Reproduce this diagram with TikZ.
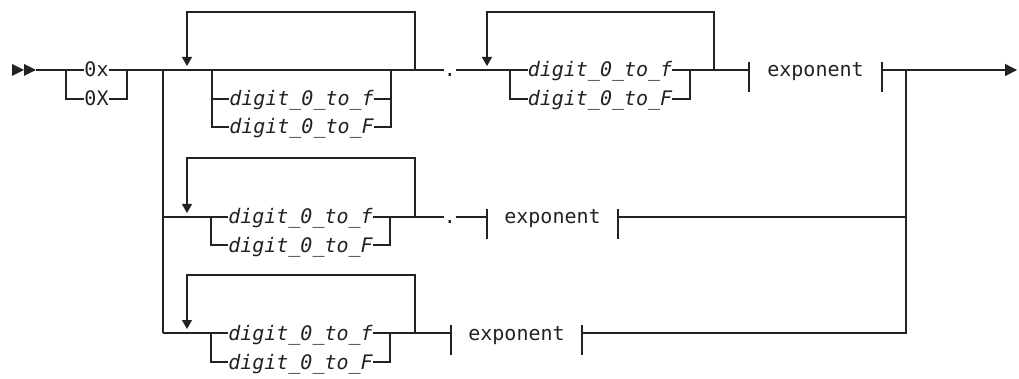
\documentclass[tikz,border=0pt]{standalone}
\usepackage{fontspec}
\newfontfamily\railmono{DejaVu Sans Mono}
\usetikzlibrary{arrows.meta}
\definecolor{ink}{HTML}{222222}
\begin{document}
\begin{tikzpicture}[x=1pt,y=-1pt,
  rail/.style={draw=ink,line width=1.3pt},
  lbl/.style={inner sep=0pt,outer sep=0pt,text height=14pt,text depth=0pt,text=ink,
    font=\railmono\fontsize{20}{20}\selectfont},
  ilbl/.style={lbl,font=\railmono\itshape\fontsize{20}{20}\selectfont},
  looparrow/.style={rail,-{Triangle[width=10pt,length=9pt]}},
  endarrow/.style={rail,-{Triangle[width=12pt,length=12pt]}},
  tip/.style={fill=ink}]
\useasboundingbox (0,0) rectangle (1019,379);
% ---------- start ----------
\coordinate (a0) at (12,70);
\coordinate (a1) at (24,70);
\coordinate (s) at (36,70);
\fill[tip] (a0) ++(0,-6) -- ++(12,6) -- ++(-12,6) -- cycle;
\fill[tip] (a1) ++(0,-6) -- ++(12,6) -- ++(-12,6) -- cycle;
% ---------- 0x / 0X ----------
\node[lbl] (ox) at (96.5,70) {0x};
\node[lbl] (oX) at (96.5,99) {0X};
\coordinate (b0l) at (66,70);
\coordinate (b0r) at (127,70);
\draw[rail] (s) -- (ox.west);
\draw[rail] (b0l) |- (oX.west);
\draw[rail] (oX.east) -| (b0r);
% ---------- row 1 ----------
\coordinate (j) at (163,70);
\coordinate (j2) at (163,217);
\coordinate (j3) at (163,333);
\node[ilbl] (f1) at (301.5,99) {digit\_0\_to\_f};
\node[ilbl] (F1) at (301.5,127) {digit\_0\_to\_F};
\coordinate (c1l) at (212,70);
\coordinate (c1r) at (391,70);
\node[lbl] (dot1) at (450,70) {.};
\draw[rail] (ox.east) -- (dot1.west);
\draw[rail] (c1l) |- (F1.west);
\draw[rail] (c1l |- f1) -- (f1.west);
\draw[rail] (F1.east) -| (c1r);
\draw[rail] (f1.east) -| (c1r);
% loop 1
\coordinate (l1r) at (415,70);
\coordinate (l1t) at (187,12);
\coordinate (l1a) at (187,66);
\draw[looparrow] (l1r) |- (l1t) -- (l1a);
% choice 2
\node[ilbl] (f2) at (600,70) {digit\_0\_to\_f};
\node[ilbl] (F2) at (600,99) {digit\_0\_to\_F};
\coordinate (c2l) at (510,70);
\coordinate (c2r) at (690,70);
\draw[rail] (dot1.east) -- (f2.west);
\draw[rail] (c2l) |- (F2.west);
\draw[rail] (F2.east) -| (c2r);
% loop 2
\coordinate (l2r) at (714,70);
\coordinate (l2t) at (487,12);
\coordinate (l2a) at (487,66);
\draw[looparrow] (l2r) |- (l2t) -- (l2a);
% exponent 1
\node[lbl] (e1) at (815.5,70) {exponent};
\coordinate (e1l) at (749,70);
\coordinate (e1r) at (882,70);
\draw[rail] (f2.east) -- (e1l);
\draw[rail] ([yshift=8pt]e1l) -- ([yshift=-22pt]e1l);
\draw[rail] ([yshift=8pt]e1r) -- ([yshift=-22pt]e1r);
\coordinate (m1) at (906,70);
\coordinate (m2) at (906,217);
\coordinate (m3) at (906,333);
\coordinate (fin) at (1017,70);
\draw[endarrow] (e1r) -- (fin);
% ---------- row 2 ----------
\node[ilbl] (f2b) at (300.5,217) {digit\_0\_to\_f};
\node[ilbl] (F2b) at (300.5,245) {digit\_0\_to\_F};
\coordinate (c3l) at (211,217);
\coordinate (c3r) at (390,217);
\node[lbl] (dot2) at (450,217) {.};
\draw[rail] (j) -- (j3);
\draw[rail] (j2) -- (f2b.west);
\draw[rail] (c3l) |- (F2b.west);
\draw[rail] (F2b.east) -| (c3r);
\draw[rail] (f2b.east) -- (dot2.west);
\coordinate (l3r) at (415,217);
\coordinate (l3t) at (187,158);
\coordinate (l3a) at (187,213);
\draw[looparrow] (l3r) |- (l3t) -- (l3a);
\node[lbl] (e2) at (552.5,217) {exponent};
\coordinate (e2l) at (487,217);
\coordinate (e2r) at (618,217);
\draw[rail] (dot2.east) -- (e2l);
\draw[rail] ([yshift=8pt]e2l) -- ([yshift=-22pt]e2l);
\draw[rail] ([yshift=8pt]e2r) -- ([yshift=-22pt]e2r);
\draw[rail] (e2r) -- (m2);
% ---------- row 3 ----------
\node[ilbl] (f3) at (300.5,333) {digit\_0\_to\_f};
\node[ilbl] (F3) at (300.5,362) {digit\_0\_to\_F};
\coordinate (c4l) at (211,333);
\coordinate (c4r) at (390,333);
\draw[rail] (j3) -- (f3.west);
\draw[rail] (c4l) |- (F3.west);
\draw[rail] (F3.east) -| (c4r);
\coordinate (l4r) at (415,333);
\coordinate (l4t) at (187,275);
\coordinate (l4a) at (187,329);
\draw[looparrow] (l4r) |- (l4t) -- (l4a);
\node[lbl] (e3) at (516.5,333) {exponent};
\coordinate (e3l) at (451,333);
\coordinate (e3r) at (582,333);
\draw[rail] (f3.east) -- (e3l);
\draw[rail] ([yshift=8pt]e3l) -- ([yshift=-22pt]e3l);
\draw[rail] ([yshift=8pt]e3r) -- ([yshift=-22pt]e3r);
\draw[rail] (e3r) -| (m1);
\end{tikzpicture}
\end{document}
